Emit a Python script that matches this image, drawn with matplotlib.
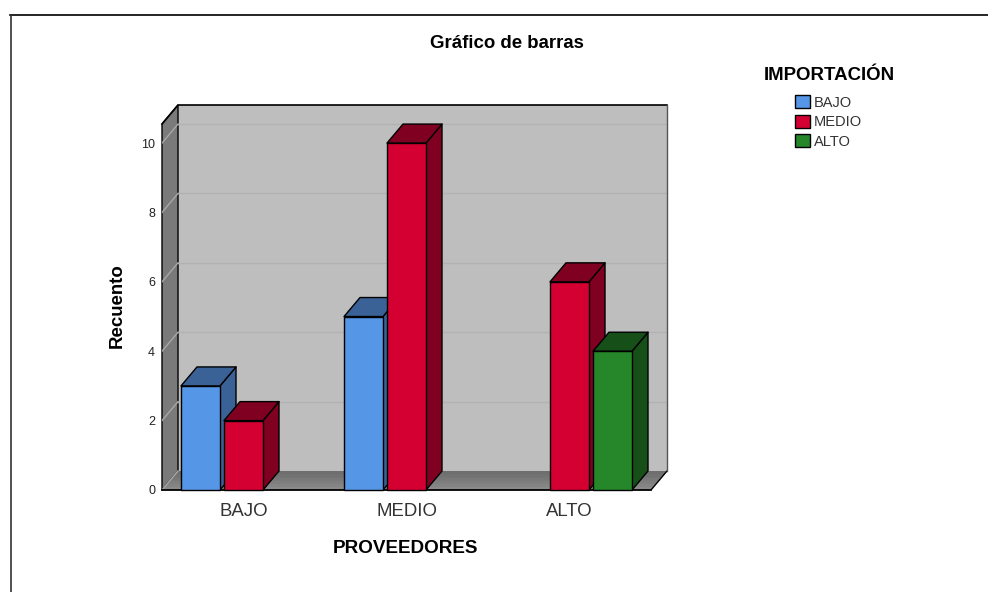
import matplotlib
matplotlib.use("Agg")
import matplotlib.pyplot as plt
from matplotlib.lines import Line2D
from matplotlib.patches import Patch, Polygon

plt.rcParams['font.family'] = ['Liberation Sans', 'DejaVu Sans']

categories = ["BAJO", "MEDIO", "ALTO"]
series_names = ["BAJO", "MEDIO", "ALTO"]
bajo_vals = [3, 5, 0]
medio_vals = [2, 10, 6]
alto_vals = [0, 0, 4]
y_ticks = [0, 2, 4, 6, 8, 10]

front_cols = ["#5596E6", "#D50032", "#25862A"]
side_cols = ["#3A6296", "#7F0020", "#174F19"]
floor_cols = ["#8A8A8A", "#848484", "#7E7E7E", "#787878", "#727272", "#6E6E6E"]

W, H = 988, 592
# depth of the fake 3d box, in data units
dx = 16 / 163
dy = 19 / 34.7
y_top = 10.55
x0, x1 = -0.5, 2.5
slot = 43 / 163
bar_w = 39 / 163

fig = plt.figure(figsize=(W / 100, H / 100), dpi=100)
fig.patch.set_facecolor("white")
ax = fig.add_axes([162 / W, 1 - 490 / H, 505 / W, 385 / H])
ax.set_xlim(x0, x1 + dx)
ax.set_ylim(0, y_top + dy)
ax.patch.set_visible(False)
for s in ax.spines.values():
    s.set_visible(False)


def poly(pts, fc, ec="black", lw=1.0, z=1):
    ax.add_patch(Polygon(pts, closed=True, facecolor=fc, edgecolor=ec, linewidth=lw, zorder=z, clip_on=False, joinstyle="round"))


# walls and floor
poly([(x0 + dx, dy), (x1 + dx, dy), (x1 + dx, y_top + dy), (x0 + dx, y_top + dy)], "#BEBEBE", ec="none", z=1)
poly([(x0, 0), (x0 + dx, dy), (x0 + dx, y_top + dy), (x0, y_top)], "#7A7A7A", z=1)
# floor gets darker towards the back, each band overlaps the next one
n = len(floor_cols)
for k, col in enumerate(floor_cols):
    a = k / n
    poly([(x0 + a * dx, a * dy), (x1 + a * dx, a * dy), (x1 + dx, dy), (x0 + dx, dy)], col, ec="none", lw=0, z=2)
for v in y_ticks[1:]:
    ax.plot([x0 + dx, x1 + dx], [v + dy, v + dy], color="#B2B2B2", lw=1, zorder=2)
for v in y_ticks:
    ax.plot([x0, x0 + dx], [v, v + dy], color="#A8A8A8", lw=1, zorder=2)
ax.plot([x0, x1], [0, 0], color="black", lw=1.3, zorder=3, clip_on=False)
ax.plot([x1, x1 + dx], [0, dy], color="black", lw=1.0, zorder=3)
ax.plot([x0, x0 + dx, x1 + dx], [y_top, y_top + dy, y_top + dy], color="black", lw=1.2, zorder=3, clip_on=False)
ax.plot([x1 + dx, x1 + dx], [dy, y_top + dy], color="#555555", lw=1.0, zorder=3, clip_on=False)

# bars, back to front in drawing order
all_vals = [bajo_vals, medio_vals, alto_vals]
z = 4
for c in range(len(categories)):
    for i, vals in enumerate(all_vals):
        v = vals[c]
        if v == 0:
            continue
        l = c + (i - 1) * slot - bar_w / 2
        r = l + bar_w
        poly([(r, 0), (r + dx, dy), (r + dx, v + dy), (r, v)], side_cols[i], z=z)
        poly([(l, v), (r, v), (r + dx, v + dy), (l + dx, v + dy)], side_cols[i], z=z)
        poly([(l, 0), (r, 0), (r, v), (l, v)], front_cols[i], z=z)
        z += 1

ax.set_xticks(range(len(categories)))
ax.set_xticklabels(categories, fontsize=13.4, color="#333333")
ax.set_yticks(y_ticks)
ax.set_yticklabels([str(v) for v in y_ticks], fontsize=9, color="#222222")
ax.tick_params(axis="both", length=0)
ax.tick_params(axis="x", pad=9)
ax.tick_params(axis="y", pad=5)

ax.set_xlabel("PROVEEDORES", fontsize=13.6, fontweight="bold", x=(405.5 - 162) / 505, labelpad=15)
ax.set_ylabel("Recuento", fontsize=13.4, fontweight="bold", y=(490 - 306) / 385, labelpad=11)

fig.text(507 / W, 1 - 43 / H, "Gráfico de barras", fontsize=13.4, fontweight="bold", ha="center", va="center")
fig.text(829 / W, 1 - 75.5 / H, "IMPORTACIÓN", fontsize=13.4, fontweight="bold", ha="center", va="center")

handles = [Patch(facecolor=front_cols[i], edgecolor="black", linewidth=1) for i in range(3)]
leg = fig.legend(handles, series_names, loc="upper left", bbox_to_anchor=(795 / W, 1 - 95 / H),
                 borderaxespad=0, borderpad=0, frameon=False, fontsize=10.5,
                 handlelength=1.0, handleheight=1.0, handletextpad=0.3, labelspacing=0.35)
for t in leg.get_texts():
    t.set_color("#333333")

# outer frame of the output window
fig.add_artist(Line2D([10 / W, 1], [1 - 14.5 / H, 1 - 14.5 / H], color="black", lw=1.2))
fig.add_artist(Line2D([10.5 / W, 10.5 / W], [0, 1 - 14.5 / H], color="#333333", lw=1.2))

fig.savefig("out.png", dpi=100)
